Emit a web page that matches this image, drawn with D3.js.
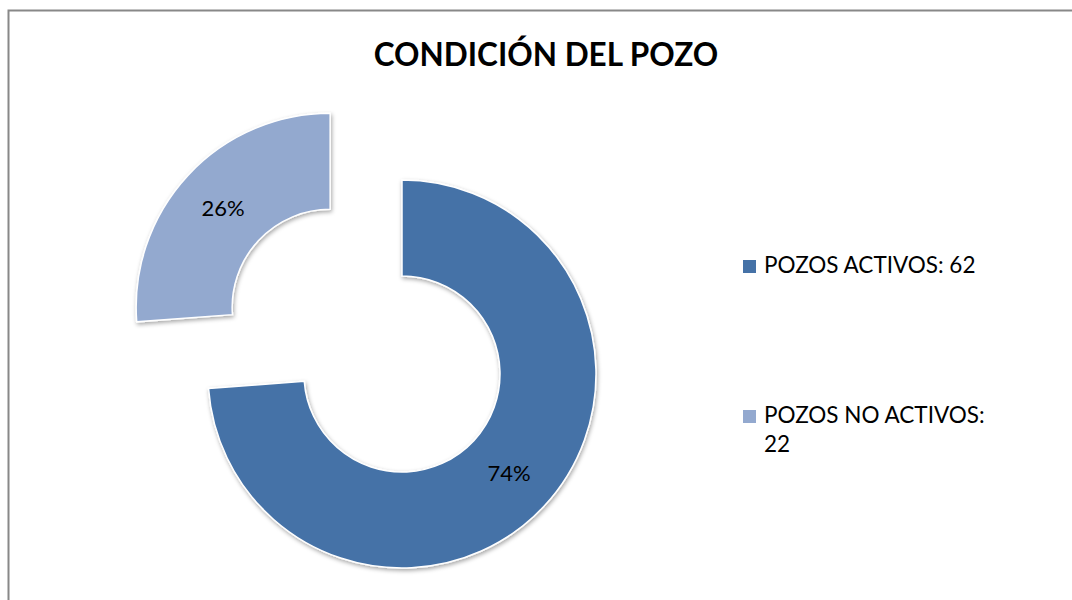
<!DOCTYPE html>
<html>
<head>
<meta charset="utf-8">
<script src="https://cdn.jsdelivr.net/npm/d3@7"></script>
<style>
  body { margin: 0; background: #fff; }
  text { font-family: Lato, "Open Sans", sans-serif; fill: #000; }
</style>
</head>
<body>
<div id="chart"></div>
<script>
// data
var categories = ['POZOS ACTIVOS', 'POZOS NO ACTIVOS'];
var counts = [62, 22];
var sliceColors = ['#4572a7', '#93a9cf'];
var chartTitle = 'CONDICIÓN DEL POZO';

var svgWidth = 1072;
var svgHeight = 600;

var svg = d3.select('#chart')
    .append('svg')
    .attr('width', svgWidth)
    .attr('height', svgHeight);

// drop shadow like the office chart
var defs = svg.append('defs');
defs.append('filter')
    .attr('id', 'shadow')
    .attr('x', '-20%').attr('y', '-20%')
    .attr('width', '140%').attr('height', '140%')
    .append('feDropShadow')
    .attr('dx', 1)
    .attr('dy', 2)
    .attr('stdDeviation', 2)
    .attr('flood-color', '#000')
    .attr('flood-opacity', 0.35);

// chart frame
svg.append('rect')
    .attr('x', 8.5)
    .attr('y', 10.5)
    .attr('width', 1080)
    .attr('height', 620)
    .attr('fill', 'none')
    .attr('stroke', '#888')
    .attr('stroke-width', 2);

// title
svg.append('text')
    .attr('x', 546)
    .attr('y', 66)
    .attr('text-anchor', 'middle')
    .style('font-size', '31.5px')
    .style('font-weight', 'bold')
    .text(chartTitle);

// donut
var cx = 402, cy = 374;
var outerR = 194, innerR = 98;
var explode = 98;

var total = d3.sum(counts);
var pie = d3.pie().sort(null).value(d => d.value);
var arc = d3.arc().innerRadius(innerR).outerRadius(outerR);
var labelArc = d3.arc().innerRadius((innerR + outerR) / 2).outerRadius((innerR + outerR) / 2);

var pieData = pie(categories.map(function(c, i) {
    return { name: c, value: counts[i], color: sliceColors[i] };
}));

function offset(d) {
    if (d.index === 0) return [0, 0];
    var a = (d.startAngle + d.endAngle) / 2;
    return [Math.sin(a) * explode, -Math.cos(a) * explode];
}

var donut = svg.append('g')
    .attr('transform', `translate(${cx}, ${cy})`);

var slices = donut.selectAll('g.slice')
    .data(pieData)
    .enter()
    .append('g')
    .attr('class', 'slice')
    .attr('transform', d => `translate(${offset(d)[0]}, ${offset(d)[1]})`);

slices.append('path')
    .attr('d', arc)
    .attr('fill', d => d.data.color)
    .attr('stroke', '#fff')
    .attr('stroke-width', 1.5)
    .attr('filter', 'url(#shadow)');

slices.append('text')
    .attr('transform', d => `translate(${labelArc.centroid(d)})`)
    .attr('text-anchor', 'middle')
    .attr('dy', '0.35em')
    .style('font-size', '22px')
    .text(d => Math.round(d.data.value / total * 100) + '%');

// legend
var legend = svg.append('g')
    .attr('transform', 'translate(743, 260)');

var items = legend.selectAll('g')
    .data(pieData)
    .enter()
    .append('g')
    .attr('transform', (d, i) => `translate(0, ${i * 150})`);

items.append('rect')
    .attr('width', 13)
    .attr('height', 13)
    .attr('fill', d => d.data.color);

items.append('text')
    .attr('x', 21)
    .attr('y', 13)
    .style('font-size', '22.5px')
    .text(d => `${d.data.name}: ${d.data.value}`)
    .each(function() { wrap(d3.select(this), 232); });

// break long legend text over lines
function wrap(t, maxW) {
    var words = t.text().split(' ');
    var x = t.attr('x');
    t.text(null);
    var line = [];
    var tspan = t.append('tspan').attr('x', x);
    words.forEach(function(w) {
        line.push(w);
        tspan.text(line.join(' '));
        if (tspan.node().getComputedTextLength() > maxW && line.length > 1) {
            line.pop();
            tspan.text(line.join(' '));
            line = [w];
            tspan = t.append('tspan').attr('x', x).attr('dy', 29).text(w);
        }
    });
}
</script>
</body>
</html>
